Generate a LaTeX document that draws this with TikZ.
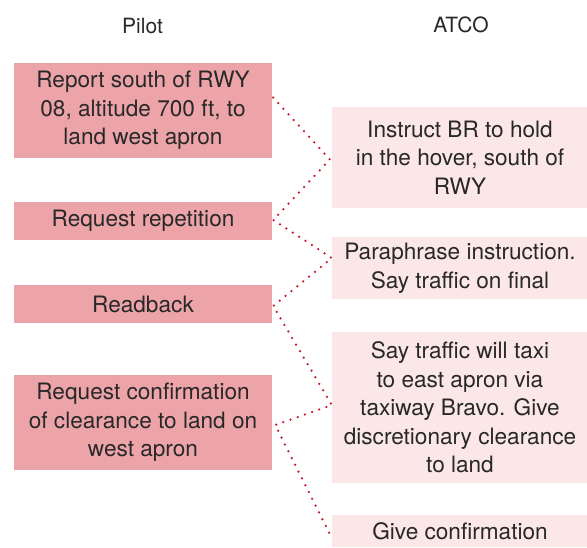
\documentclass[tikz,border=0pt]{standalone}
\usepackage{fontspec}
\setmainfont{TeX Gyre Heros}
\usetikzlibrary{calc}

\definecolor{pilotfill}{RGB}{237,164,169}
\definecolor{atcofill}{RGB}{251,231,232}
\definecolor{dotred}{RGB}{200,20,40}
\definecolor{inkgray}{RGB}{40,40,40}

\begin{document}
\begin{tikzpicture}[x=1pt,y=-1pt,
  boxtext/.style={inner sep=0pt, align=center, text=inkgray,
    font=\fontsize{22.6}{28.5}\selectfont},
  pilotbox/.style={boxtext, fill=pilotfill, minimum width=258pt},
  atcobox/.style={boxtext, fill=atcofill, minimum width=256pt},
  heading/.style={anchor=base, text=inkgray, font=\fontsize{21}{25}\selectfont},
  link/.style={draw=dotred, line width=2.5pt, line cap=round,
    dash pattern=on 0pt off 7.6pt}]

\useasboundingbox (0,0) rectangle (587,547);
\clip (0,0) rectangle (587,547);

% column headings
\node[heading] (hpilot) at (142.5,33) {Pilot};
\node[heading] (hatco)  at (461,32)   {ATCO};

% pilot messages
\node[pilotbox, minimum height=95pt] (p1) at (143,110.5)
  {Report south of RWY\\08, altitude 700 ft, to\\land west apron};
\node[pilotbox, minimum height=38pt] (p2) at (143,221) {Request repetition};
\node[pilotbox, minimum height=38pt] (p3) at (143,304) {Readback};
\node[pilotbox, minimum height=95pt] (p4) at (143,422.5)
  {Request confirmation\\of clearance to land on\\west apron};

% controller messages
\node[atcobox, minimum height=101pt] (a1) at (460,157.5)
  {Instruct BR to hold\\in the hover, south of\\RWY};
\node[atcobox, minimum height=62pt] (a2) at (460,268)
  {Paraphrase instruction.\\Say traffic on final};
\node[atcobox, minimum height=151pt] (a3) at (460,407.5)
  {Say traffic will taxi\\to east apron via\\taxiway Bravo. Give\\discretionary clearance\\to land};
\node[atcobox, minimum height=32pt] (a4) at (460,531) {Give confirmation};

% dotted exchange path
\coordinate (cp1) at ($(p1.east)+(1,-13)$);
\coordinate (ca1) at ($(a1.west)+(-2,2)$);
\coordinate (cp2) at ($(p2.east)+(1,-1)$);
\coordinate (ca2) at ($(a2.west)+(0,-10)$);
\coordinate (cp3) at ($(p3.east)+(1,2)$);
\coordinate (ca3) at ($(a3.west)+(0,-2.5)$);
\coordinate (cp4) at ($(p4.east)+(3,2.5)$);
\coordinate (ca4) at ($(a4.west)+(0,7)$);

\draw[link] (cp1) -- (ca1) -- (cp2) -- (ca2) -- (cp3) -- (ca3) -- (cp4) -- (ca4);

\end{tikzpicture}
\end{document}
